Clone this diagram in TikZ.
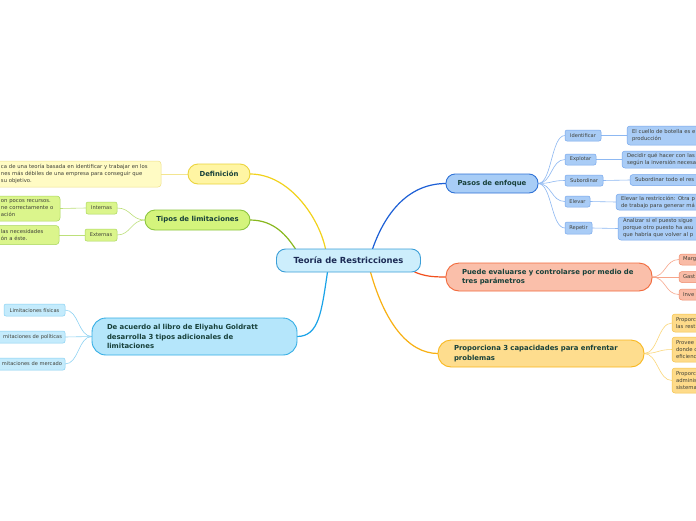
\documentclass[tikz,border=0pt]{standalone}
\usepackage{fontspec}
\setmainfont{DejaVu Sans}
\usetikzlibrary{backgrounds}
\definecolor{cF}{HTML}{CDEEFC}\definecolor{cB}{HTML}{3C9FD8}\definecolor{cT}{HTML}{1C2B55}
\definecolor{mT}{HTML}{17403A}\definecolor{sT}{HTML}{3F4038}
\definecolor{yF}{HTML}{FFF5A3}\definecolor{yB}{HTML}{EBD43C}\definecolor{yL}{HTML}{F2D21C}\definecolor{ysF}{HTML}{FFFBC4}\definecolor{ysB}{HTML}{EFE08A}\definecolor{ysL}{HTML}{F3E590}
\definecolor{gF}{HTML}{D4F47C}\definecolor{gB}{HTML}{8DC63F}\definecolor{gL}{HTML}{88B81E}\definecolor{gsF}{HTML}{DBF58C}\definecolor{gsB}{HTML}{A8D65C}\definecolor{gsL}{HTML}{BDE07A}
\definecolor{bF}{HTML}{B5E6FB}\definecolor{bB}{HTML}{35AEE5}\definecolor{bL}{HTML}{1AA3E8}\definecolor{bsF}{HTML}{C4EBFC}\definecolor{bsB}{HTML}{86D0F2}\definecolor{bsL}{HTML}{8FD3F3}
\definecolor{dF}{HTML}{A8CDF6}\definecolor{dB}{HTML}{2F72D6}\definecolor{dL}{HTML}{1C5FD6}\definecolor{dsF}{HTML}{A9CCF6}\definecolor{dsB}{HTML}{76A7EC}\definecolor{dsL}{HTML}{8DB8F2}
\definecolor{rF}{HTML}{FABFAA}\definecolor{rB}{HTML}{F26A3C}\definecolor{rL}{HTML}{F2501E}\definecolor{rsF}{HTML}{F9BBA6}\definecolor{rsB}{HTML}{EF8C6C}\definecolor{rsL}{HTML}{F7A58A}
\definecolor{oF}{HTML}{FEDD8E}\definecolor{oB}{HTML}{F9B81F}\definecolor{oL}{HTML}{F8B012}\definecolor{osF}{HTML}{FEDB8A}\definecolor{osB}{HTML}{F4C24A}\definecolor{osL}{HTML}{FBD77A}
\begin{document}
\begin{tikzpicture}[x=1pt,y=-1pt,
  every node/.style={inner sep=0pt, outer sep=0pt},
  central/.style={draw=cB, fill=cF, line width=0.9pt, rounded corners=9pt, minimum width=144pt, minimum height=23pt, font=\fontsize{8.4}{10}\selectfont\bfseries, text=cT},
  mainbox/.style={line width=0.9pt, font=\fontsize{6.9}{9.5}\selectfont\bfseries, text=mT, align=left},
  subbox/.style={line width=0.5pt, rounded corners=2pt, font=\fontsize{5.1}{6.5}\selectfont, text=sT, align=center},
  txtbox/.style={line width=0.5pt, rounded corners=3pt, font=\fontsize{5.3}{7}\selectfont, text=sT, align=left, inner xsep=5pt},
  mainline/.style={line width=1.2pt},
  subline/.style={line width=0.6pt}
]
\useasboundingbox (0,0) rectangle (696,520);
\clip (0,0) rectangle (696,520);

% central
\node[central] (c) at (348.5,260.5) {Teoría de Restricciones};

% Definicion
\node[mainbox, draw=yB, fill=yF, rounded corners=10pt, minimum width=62pt, minimum height=20pt, align=center] (def) at (219,174) {Definición};
\node[txtbox, draw=ysB, fill=ysF, anchor=east, text width=155pt, minimum height=26pt] (deft) at (161,174) {ca de una teoría basada en identificar y trabajar en los\\nes más débiles de una empresa para conseguir que\\su objetivo.};

% Tipos
\node[mainbox, draw=gB, fill=gF, rounded corners=10pt, minimum width=105pt, minimum height=20pt, align=center] (tip) at (197.5,220) {Tipos de limitaciones};
\node[subbox, draw=gsB, fill=gsF, minimum width=31pt, minimum height=12pt] (int) at (101.5,208) {Internas};
\node[subbox, draw=gsB, fill=gsF, minimum width=32pt, minimum height=12pt] (ext) at (101,235) {Externas};
\node[txtbox, draw=gsB, fill=gsF, anchor=east, text width=54pt, minimum height=25pt] (intt) at (60,208.5) {on pocos recursos.\\ne correctamente o\\ación};
\node[txtbox, draw=gsB, fill=gsF, anchor=east, text width=53pt, minimum height=19pt] (extt) at (59,235) {las necesidades\\ón a éste.};

% De acuerdo
\node[mainbox, draw=bB, fill=bF, rounded corners=14pt, minimum width=205pt, minimum height=37pt, text width=175pt, inner xsep=15pt] (acu) at (194.5,336.5) {De acuerdo al libro de Eliyahu Goldratt\\desarrolla 3 tipos adicionales de\\limitaciones};
\node[subbox, draw=bsB, fill=bsF, anchor=east, minimum width=61pt, minimum height=12pt] (lf) at (65,310) {Limitaciones físicas};
\node[subbox, draw=bsB, fill=bsF, anchor=east, minimum height=12pt, inner xsep=3pt, text width=62pt, align=right] (lp) at (65,337) {mitaciones de políticas};
\node[subbox, draw=bsB, fill=bsF, anchor=east, minimum height=12pt, inner xsep=3pt, text width=62pt, align=right] (lm) at (65,364) {mitaciones de mercado};

% Pasos de enfoque
\node[mainbox, draw=dB, fill=dF, rounded corners=9pt, minimum width=92pt, minimum height=19pt, align=center] (pas) at (492,183.5) {Pasos de enfoque};
\node[subbox, draw=dsB, fill=dsF, minimum width=36pt, minimum height=11pt] (ide) at (583,135.5) {Identificar};
\node[subbox, draw=dsB, fill=dsF, minimum width=31pt, minimum height=11pt] (exp) at (580.5,159.5) {Explotar};
\node[subbox, draw=dsB, fill=dsF, minimum width=38pt, minimum height=11pt] (sub) at (584,180.5) {Subordinar};
\node[subbox, draw=dsB, fill=dsF, minimum width=25pt, minimum height=11pt] (ele) at (577.5,201.5) {Elevar};
\node[subbox, draw=dsB, fill=dsF, minimum width=27pt, minimum height=12pt] (rep) at (578.5,228) {Repetir};
\node[txtbox, draw=dsB, fill=dsF, anchor=west, text width=90pt, minimum height=19pt] (t1) at (627,135.5) {El cuello de botella es e\\producción};
\node[txtbox, draw=dsB, fill=dsF, anchor=west, text width=90pt, minimum height=17pt] (t2) at (622,159.5) {Decidir qué hacer con las\\según la inversión necesa};
\node[txtbox, draw=dsB, fill=dsF, anchor=west, text width=90pt, minimum height=11pt] (t3) at (630,180) {Subordinar todo el res};
\node[txtbox, draw=dsB, fill=dsF, anchor=west, text width=90pt, minimum height=16pt] (t4) at (616,202) {Elevar la restricción: Otra p\\de trabajo para generar má};
\node[txtbox, draw=dsB, fill=dsF, anchor=west, text width=90pt, minimum height=23pt] (t5) at (618,228.5) {Analizar si el puesto sigue\\porque otro puesto ha asu\\que habría que volver al p};

% Puede evaluarse
\node[mainbox, draw=rB, fill=rF, rounded corners=13pt, minimum width=206pt, minimum height=28pt, text width=174pt, inner xsep=16pt] (pue) at (549,277) {Puede evaluarse y controlarse por medio de\\tres parámetros};
\node[txtbox, draw=rsB, fill=rsF, anchor=west, text width=40pt, inner xsep=4pt, minimum height=11pt] (m1) at (679,259.5) {Marg};
\node[txtbox, draw=rsB, fill=rsF, anchor=west, text width=40pt, inner xsep=4pt, minimum height=11pt] (m2) at (679,277) {Gast};
\node[txtbox, draw=rsB, fill=rsF, anchor=west, text width=40pt, inner xsep=4pt, minimum height=11pt] (m3) at (679,294.5) {Inve};

% Proporciona
\node[mainbox, draw=oB, fill=oF, rounded corners=13pt, minimum width=206pt, minimum height=27pt, text width=174pt, inner xsep=16pt] (pro) at (541,353.5) {Proporciona 3 capacidades para enfrentar\\problemas};
\node[txtbox, draw=osB, fill=osF, anchor=west, text width=40pt, inner xsep=4pt, minimum height=18pt] (p1) at (672,323) {Proporc\\las rest};
\node[txtbox, draw=osB, fill=osF, anchor=west, text width=40pt, inner xsep=4pt, minimum height=25pt] (p2) at (672,349.5) {Provee\\donde c\\eficienc};
\node[txtbox, draw=osB, fill=osF, anchor=west, text width=40pt, inner xsep=4pt, minimum height=25pt] (p3) at (672,380.5) {Proporc\\adminis\\sistema};

\begin{pgfonlayer}{background}
\fill[white] (0,0) rectangle (696,520);
% main connectors
\draw[mainline, yL] (def.east) .. controls +(40,0) and +(-6,-30) .. ([xshift=-23pt]c.north);
\draw[mainline, gL] (tip.east) .. controls +(25,0) and +(-8,-12) .. ([xshift=-53pt]c.north);
\draw[mainline, bL] ([xshift=-21pt]c.south) .. controls +(-6,40) and +(22,0) .. (acu.east);
\draw[mainline, dL] ([xshift=24pt]c.north) .. controls +(14,-40) and +(-35,0) .. (pas.west);
\draw[mainline, rL] ([xshift=66pt]c.south) .. controls +(10,4) and +(-15,0) .. (pue.west);
\draw[mainline, oL] ([xshift=22pt]c.south) .. controls +(14,50) and +(-30,0) .. (pro.west);
% sub connectors
\draw[subline, ysL] (deft.east) -- (def.west);
\foreach \n in {int,ext} \draw[subline, gsL] (tip.west) .. controls +(-14,0) and +(14,0) .. (\n.east);
\draw[subline, gsL] (int.west) -- (intt.east);
\draw[subline, gsL] (ext.west) -- (extt.east);
\foreach \n in {lf,lp,lm} \draw[subline, bsL] (acu.west) .. controls +(-14,0) and +(14,0) .. (\n.east);
\foreach \n in {ide,exp,sub,ele,rep} \draw[subline, dsL] (pas.east) .. controls +(14,0) and +(-14,0) .. (\n.west);
\draw[subline, dsL] (ide.east) -- (t1.west);
\draw[subline, dsL] (exp.east) -- (t2.west);
\draw[subline, dsL] (sub.east) -- (t3.west);
\draw[subline, dsL] (ele.east) -- (t4.west);
\draw[subline, dsL] (rep.east) -- (t5.west);
\foreach \n in {m1,m2,m3} \draw[subline, rsL] (pue.east) .. controls +(14,0) and +(-14,0) .. (\n.west);
\foreach \n in {p1,p2,p3} \draw[subline, osL] (pro.east) .. controls +(14,0) and +(-14,0) .. (\n.west);
\end{pgfonlayer}
\end{tikzpicture}
\end{document}
